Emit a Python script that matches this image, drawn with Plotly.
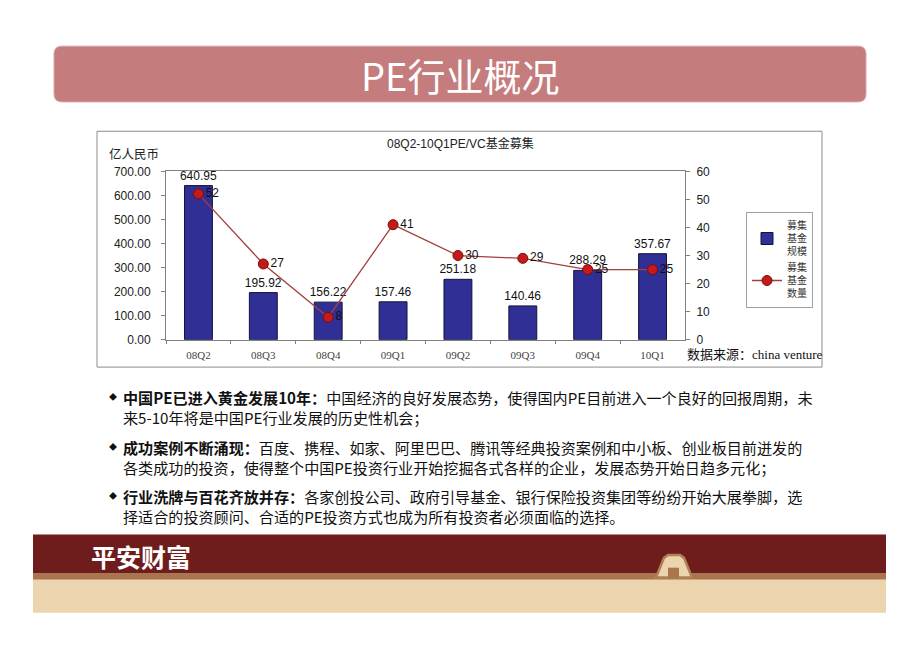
import plotly.graph_objects as go

W, H = 920, 651

# data
quarters = ['08Q2', '08Q3', '08Q4', '09Q1', '09Q2', '09Q3', '09Q4', '10Q1']
fund_size = [640.95, 195.92, 156.22, 157.46, 251.18, 140.46, 288.29, 357.67]  # 亿人民币
fund_count = [52, 27, 8, 41, 30, 29, 25, 25]

bullets = [
    ("中国PE已进入黄金发展10年：",
     "中国经济的良好发展态势，使得国内PE目前进入一个良好的回报周期，未",
     "来5-10年将是中国PE行业发展的历史性机会；"),
    ("成功案例不断涌现：",
     "百度、携程、如家、阿里巴巴、腾讯等经典投资案例和中小板、创业板目前迸发的",
     "各类成功的投资，使得整个中国PE投资行业开始挖掘各式各样的企业，发展态势开始日趋多元化；"),
    ("行业洗牌与百花齐放并存：",
     "各家创投公司、政府引导基金、银行保险投资集团等纷纷开始大展拳脚，选",
     "择适合的投资顾问、合适的PE投资方式也成为所有投资者必须面临的选择。"),
]

CJK = "Noto Sans CJK SC"
SANS = "Liberation Sans, " + CJK
SERIF = "Liberation Serif, " + CJK


def px(x):
    return x / W


def py(y):
    return 1 - y / H


def rounded_rect(x0, y0, x1, y1, r):
    rx, ry = r / W, r / H
    a, b, c, d = px(x0), py(y0), px(x1), py(y1)
    return (f"M {a + rx},{b} L {c - rx},{b} Q {c},{b} {c},{b - ry} "
            f"L {c},{d + ry} Q {c},{d} {c - rx},{d} L {a + rx},{d} "
            f"Q {a},{d} {a},{d + ry} L {a},{b - ry} Q {a},{b} {a + rx},{b} Z")


def note(text, x, y, size, family=CJK, color='#111', xanchor='left'):
    return dict(text=text, x=px(x), y=py(y), xref='paper', yref='paper',
                xanchor=xanchor, yanchor='middle', showarrow=False,
                font=dict(family=family, size=size, color=color))


fig = go.Figure()

fig.add_trace(go.Bar(
    x=quarters, y=fund_size, name="募集<br>基金<br>规模",
    marker=dict(color='#2f2f96', line=dict(color='#12123a', width=1)),
    texttemplate='%{y:.2f}', textposition='outside', constraintext='none',
    cliponaxis=False, textfont=dict(size=12, color='#111', family=SANS),
))

fig.add_trace(go.Scatter(
    x=quarters, y=fund_count, name="募集<br>基金<br>数量", yaxis='y2',
    mode='lines+markers+text', text=[str(v) for v in fund_count],
    textposition='middle right', cliponaxis=False,
    textfont=dict(size=12, color='#111', family=SANS),
    line=dict(color='#a3403c', width=1.3),
    marker=dict(size=10, color='#c41a1a', line=dict(color='#7a0c0c', width=1)),
))

# layout shapes: title banner, chart frame, footer
shapes = [
    dict(type='path', xref='paper', yref='paper', layer='below',
         path=rounded_rect(54, 40, 866, 97, 8),
         fillcolor='#c47c7c', line=dict(color='#d9a5a5', width=1)),
    dict(type='rect', xref='paper', yref='paper', layer='below',
         x0=px(97), x1=px(822), y0=py(368), y1=py(127),
         line=dict(color='#8c8c8c', width=1), fillcolor='white'),
    dict(type='rect', xref='paper', yref='paper', layer='below',
         x0=px(33), x1=px(886), y0=py(580), y1=py(539),
         fillcolor='#6f1d1c', line=dict(width=0)),
    dict(type='rect', xref='paper', yref='paper', layer='below',
         x0=px(33), x1=px(886), y0=py(619), y1=py(579),
         fillcolor='#ecd4ae', line=dict(width=0)),
    dict(type='rect', xref='paper', yref='paper', layer='below',
         x0=px(33), x1=px(886), y0=py(585), y1=py(579),
         fillcolor='#a8754e', line=dict(width=0)),
    dict(type='path', xref='paper', yref='paper', layer='below',
         path=(f"M {px(656)},{py(583)} L {px(664)},{py(563)} L {px(668)},{py(560)} "
               f"L {px(680)},{py(560)} L {px(684)},{py(563)} L {px(692)},{py(583)} Z"),
         fillcolor='#ecd4ae', line=dict(color='#b08054', width=2.5)),
    dict(type='rect', xref='paper', yref='paper', layer='below',
         x0=px(668), x1=px(679), y0=py(584), y1=py(573),
         fillcolor='#a8774a', line=dict(width=0)),
]

annotations = [
    note("PE行业概况", 460, 69, 38, color='white', xanchor='center'),
    note("08Q2-10Q1PE/VC基金募集", 460, 140, 12, family=SANS, color='#222',
         xanchor='center'),
    note("亿人民币", 107, 150, 12.5, color='#222'),
    note("数据来源：china venture", 685, 355, 13, family=SERIF),
    note("<b>平安财富</b>", 89, 561, 25, color='white'),
]

para_top = [399, 450, 500]
for (head, first, second), y0 in zip(bullets, para_top):
    annotations.append(note("◆", 113, y0, 8, family=SANS, xanchor='center'))
    annotations.append(note(f"<b>{head}</b>{first}", 121, y0, 15.1))
    annotations.append(note(second, 121, y0 + 20, 15.1))

fig.update_layout(
    width=W, height=H,
    margin=dict(l=0, r=0, t=0, b=0),
    paper_bgcolor='white', plot_bgcolor='rgba(0,0,0,0)',
    font=dict(family=SANS, size=11, color='#222'),
    bargap=0.57,
    shapes=shapes,
    annotations=annotations,
    legend=dict(x=px(746), y=py(209), xanchor='left', yanchor='top',
                bordercolor='#a0a0a0', borderwidth=1, bgcolor='white',
                font=dict(family=CJK, size=10, color='#333'),
                tracegroupgap=4, itemwidth=30),
    xaxis=dict(domain=[px(166), px(685)], type='category',
               showline=True, linecolor='#808080', mirror=True,
               ticks='outside', tickson='boundaries', ticklen=3, tickcolor='#808080',
               ticklabelstandoff=5,
               tickfont=dict(family='Liberation Serif', size=11, color='#444'),
               showgrid=False, anchor='y'),
    yaxis=dict(domain=[py(340), py(168)], range=[0, 700], dtick=100,
               tickformat='.2f', showline=True, linecolor='#808080',
               ticks='outside', ticklen=4, tickcolor='#808080',
               ticklabelstandoff=8,
               tickfont=dict(family=SANS, size=12, color='#222'),
               showgrid=False, zeroline=False),
    yaxis2=dict(overlaying='y', side='right', range=[0, 60], dtick=10,
                showline=True, linecolor='#808080',
                ticks='outside', ticklen=4, tickcolor='#808080',
                ticklabelstandoff=4,
                tickfont=dict(family=SANS, size=12, color='#222'),
                showgrid=False, zeroline=False),
)

fig.write_html("out.html", config={'displayModeBar': False},
               post_script="document.body.style.margin='0';")
